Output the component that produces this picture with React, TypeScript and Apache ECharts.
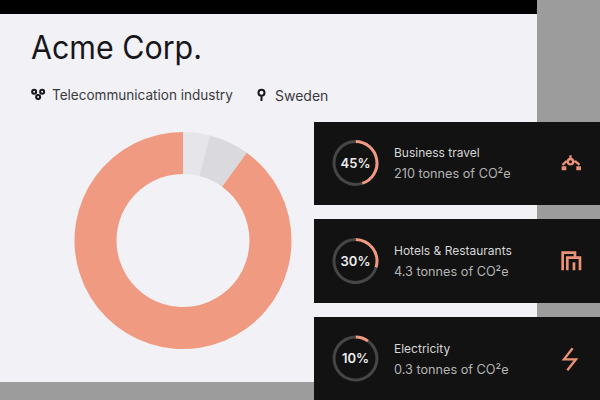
import React, { useEffect, useRef } from "react";
import * as echarts from "echarts";

const FONT = "Inter, 'Noto Sans', sans-serif";
const SALMON = "#f09a81";
const ICON = "#ea9176";
const donutNames = ["Other", "Other sources", "Total"];
const donutValues = [4, 6, 90];
const donutColors = ["#e6e6ea", "#d9d9de", "#f09a81"];
const cardTitles = ["Business travel", "Hotels & Restaurants", "Electricity"];
const cardSubs = ["210 tonnes of CO²e", "4.3 tonnes of CO²e", "0.3 tonnes of CO²e"];
const cardPercents = [45, 30, 10];

const circle = (cx: number, cy: number, r: number) => `M${cx - r} ${cy} a${r} ${r} 0 1 0 ${2 * r} 0 a${r} ${r} 0 1 0 ${-2 * r} 0 `;
echarts.graphic.registerShape("iconTravel", echarts.graphic.extendPath(
  "M36 60 L46 50 H52 M68 50 H76 L87 60 M60 31 V41 " + circle(60, 50, 8) + "M37 67 H44 V72 H37 Z M81 67 H88 V72 H81 Z", {}));
echarts.graphic.registerShape("iconHotel", echarts.graphic.extendPath(
  "M38 76 V23 H75 V38 M52 76 V38 H90 V76 M72 76 V52", {}));
echarts.graphic.registerShape("iconBolt", echarts.graphic.extendPath(
  "M68 19 L42 52 H78 L52 85", {}));
echarts.graphic.registerShape("iconNodes", echarts.graphic.extendPath(
  circle(26, 29, 6) + circle(50, 29, 6) + circle(38, 45, 6), {}));
echarts.graphic.registerShape("iconPin", echarts.graphic.extendPath(
  circle(30, 29, 9) + "M30 38 V54", {}));

export default function App() {
  const ref = useRef<HTMLDivElement>(null);
  useEffect(() => {
    document.body.style.margin = "0";
    const chart = echarts.init(ref.current!, null, { renderer: "svg" });
    const cardTop = [122, 219, 317];
    const cardH = [83, 84, 83];
    const ringCy = [163, 261, 358.5];
    const third = { scaleX: 1 / 3, scaleY: 1 / 3 };
    const graphic: any[] = [
      { type: "rect", z: -10, shape: { x: 0, y: 0, width: 600, height: 400 }, style: { fill: "#9c9c9c" } },
      { type: "rect", z: -9, shape: { x: 0, y: 14, width: 537, height: 368 }, style: { fill: "#f1f1f6" } },
      { type: "rect", z: -9, shape: { x: 0, y: 0, width: 537, height: 14 }, style: { fill: "#000000" } },
      { type: "text", z: 20, x: 31, y: 48, scaleX: 0.95, style: { text: "Acme Corp.", fill: "#17171a", font: `400 32px ${FONT}`, textVerticalAlign: "middle" } },
      { type: "text", z: 20, x: 52, y: 95, scaleX: 0.968, style: { text: "Telecommunication industry", fill: "#3a3a3e", font: `400 14px ${FONT}`, textVerticalAlign: "middle" } },
      { type: "text", z: 20, x: 275, y: 95, style: { text: "Sweden", fill: "#3a3a3e", font: `400 14px ${FONT}`, textVerticalAlign: "middle" } },
      { type: "iconNodes", z: 20, x: 25.5, y: 82, ...third, style: { fill: "none", stroke: "#17171a", lineWidth: 6 } },
      { type: "iconPin", z: 20, x: 251.5, y: 83, ...third, style: { fill: "none", stroke: "#17171a", lineWidth: 6 } },
    ];
    cardTop.forEach((top, i) => {
      graphic.push({ type: "rect", z: 5, shape: { x: 314, y: top, width: 286, height: cardH[i] }, style: { fill: "#121212" } });
      graphic.push({ type: "text", z: 20, x: 355.5, y: ringCy[i] - 0.5, style: { text: `${cardPercents[i]}%`, fill: "#eeeeee", font: `600 13px ${FONT}`, textAlign: "center", textVerticalAlign: "middle" } });
      graphic.push({ type: "text", z: 20, x: 394, y: ringCy[i] - 10.5, style: { text: cardTitles[i], fill: "#d6d6d6", font: `400 12px ${FONT}`, textVerticalAlign: "middle" } });
      graphic.push({ type: "text", z: 20, x: 394, y: ringCy[i] + 10.5, style: { text: cardSubs[i], fill: "#b4b4b4", font: `400 12.7px ${FONT}`, textVerticalAlign: "middle" } });
    });
    graphic.push({ type: "iconTravel", z: 20, x: 550.5, y: 145, ...third, style: { fill: "none", stroke: ICON, lineWidth: 7 } });
    graphic.push({ type: "iconHotel", z: 20, x: 550, y: 245, ...third, style: { fill: "none", stroke: ICON, lineWidth: 8 } });
    graphic.push({ type: "iconBolt", z: 20, x: 550, y: 342, ...third, style: { fill: "none", stroke: ICON, lineWidth: 7 } });

    const rings = cardPercents.map((p, i) => ({
      type: "pie",
      z: 10,
      center: [355.5, ringCy[i]],
      radius: [20, 23],
      startAngle: 90,
      silent: true,
      label: { show: false },
      labelLine: { show: false },
      data: [
        { value: p, itemStyle: { color: SALMON } },
        { value: 100 - p, itemStyle: { color: "#464646" } },
      ],
    }));

    chart.setOption({
      animation: false,
      graphic,
      series: [
        {
          type: "pie",
          z: 2,
          center: [183, 240.5],
          radius: [66.5, 108.5],
          startAngle: 90,
          clockwise: true,
          silent: true,
          label: { show: false },
          labelLine: { show: false },
          data: donutNames.map((name, i) => ({ name, value: donutValues[i], itemStyle: { color: donutColors[i] } })),
        },
        ...rings,
      ],
    });
    return () => chart.dispose();
  }, []);
  return <div ref={ref} style={{ position: "absolute", left: 0, top: 0, width: 600, height: 400 }} />;
}
